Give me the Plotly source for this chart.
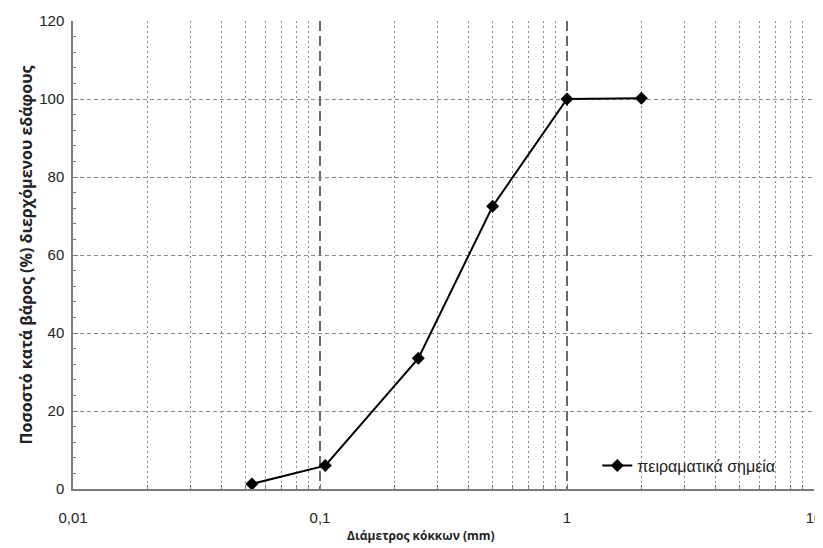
import plotly.graph_objects as go

# Data
diameters = [0.053, 0.105, 0.25, 0.5, 1.0, 2.0]
passing = [1.3, 6.0, 33.5, 72.5, 100.0, 100.2]
series_name = "πειραματικά σημεία"
x_title = "Διάμετρος κόκκων (mm)"
y_title = "Ποσοστό κατά βάρος (%) διερχόμενου εδάφους"

x_tickvals = [0.01, 0.1, 1, 10]
x_ticktext = ["0,01", "0,1", "1", "10"]
x_minor = [m * d for d in (0.01, 0.1, 1) for m in range(2, 10)]
x_decade_grid = [0.1, 1]
y_tickvals = [0, 20, 40, 60, 80, 100, 120]
y_grid = [20, 40, 60, 80, 100]

FONT = "Liberation Sans, Arial, sans-serif"
TFONT = "Open Sans, Liberation Sans, sans-serif"
GRID = "#8a8a8a"
AXIS = "#7a7a7a"

fig = go.Figure()

# invisible helper trace for the grid overlay axes
fig.add_trace(go.Scatter(
    x=diameters, y=passing, xaxis="x2", yaxis="y2", mode="markers",
    marker=dict(opacity=0), showlegend=False, hoverinfo="skip"))

fig.add_trace(go.Scatter(
    x=diameters, y=passing, mode="lines+markers", name=series_name,
    line=dict(color="black", width=2),
    marker=dict(symbol="diamond", size=10, color="black")))

fig.update_layout(
    width=815, height=540,
    margin=dict(l=65, r=9, t=13, b=59),
    paper_bgcolor="white", plot_bgcolor="white",
    font=dict(family=FONT, size=15, color="#222"),
    xaxis=dict(
        type="log", range=[-2, 1], automargin=False,
        tickmode="array", tickvals=x_tickvals, ticktext=x_ticktext,
        ticks="inside", ticklen=5, tickcolor=AXIS,
        ticklabelstandoff=14, ticklabeloverflow="allow",
        tickfont=dict(size=15),
        showgrid=False, zeroline=False,
        showline=True, linecolor=AXIS, linewidth=1.5,
        minor=dict(tickmode="array", tickvals=x_minor, ticks="inside", ticklen=4,
                   tickcolor=AXIS, showgrid=True, gridcolor=GRID,
                   griddash="2px,3px", gridwidth=1.3),
    ),
    yaxis=dict(
        range=[0, 120], tickmode="array", tickvals=y_tickvals, automargin=False,
        ticks="inside", ticklen=5, tickcolor=AXIS,
        ticklabelstandoff=4, tickfont=dict(size=15),
        showgrid=False, zeroline=False,
        showline=True, linecolor=AXIS, linewidth=1.5,
        minor=dict(dtick=4, ticks="inside", ticklen=3, tickcolor=AXIS, showgrid=False),
        title=dict(text="<b>" + y_title + "</b>",
                   font=dict(family=TFONT, size=16, color="#222"), standoff=3),
    ),
    xaxis2=dict(
        type="log", range=[-2, 1], overlaying="x", anchor="y2",
        tickmode="array", tickvals=x_decade_grid, showticklabels=False, ticks="",
        showgrid=True, gridcolor="#6a6a6a", griddash="10px,5px", gridwidth=1.5,
        zeroline=False, showline=False,
    ),
    yaxis2=dict(
        range=[0, 120], overlaying="y", anchor="x2",
        tickmode="array", tickvals=y_grid, showticklabels=False, ticks="",
        showgrid=True, gridcolor=GRID, griddash="4px,3px", gridwidth=1.3,
        zeroline=False, showline=False,
    ),
    legend=dict(x=0.7075, y=0.05, xanchor="left", yanchor="middle",
                bgcolor="rgba(0,0,0,0)", font=dict(size=16, color="#222")),
    showlegend=True,
    annotations=[dict(
        text="<b>" + x_title + "</b>", xref="paper", yref="paper",
        x=0.47, y=-0.1, xanchor="center", yanchor="middle", showarrow=False,
        font=dict(family=TFONT, size=12, color="#222"))],
)

fig.write_html("out.html")
